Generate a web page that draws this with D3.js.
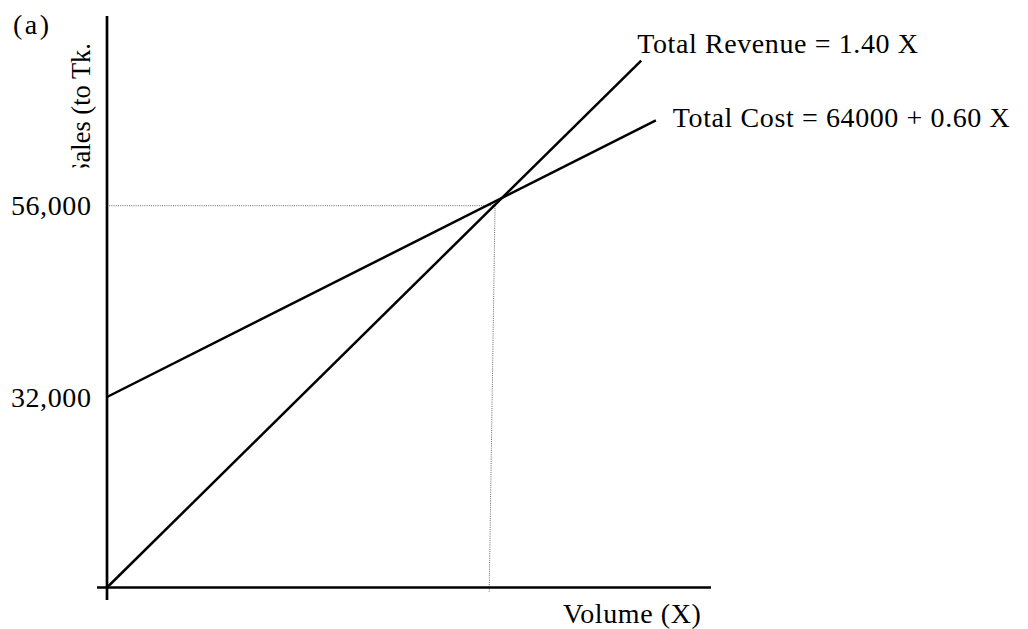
<!DOCTYPE html>
<html><head><meta charset="utf-8">
<script src="https://cdn.jsdelivr.net/npm/d3@7"></script>
<style>html,body{margin:0;padding:0;background:#fff}</style>
</head><body>
<svg id="c" width="1028" height="629"></svg>
<script>
// ---- data ----
const yTickValues = [32000, 56000];
const yTickLabels = ["32,000", "56,000"];
const revenueX = [0, 109300];
const revenueY = [0, 74200];
const costX = [0, 112300];
const costY = [32000, 66700];
const guideHX = [0, 79400];
const guideHY = [56000, 56000];
const guideVX = [79400, 78200];
const guideVY = [56000, -700];
const revenueLabel = "Total Revenue = 1.40 X";
const costLabel = "Total Cost = 64000 + 0.60 X";
const xTitle = "Volume (X)";
const yTitle = "Sales (to Tk.";
const panelLabel = "(a)";

// ---- layout ----
const FONT = "'Liberation Serif','Times New Roman',Times,serif";
const FS = 28;
const LS = 0.6;
const svg = d3.select("#c");
const x = d3.scaleLinear().domain([0, 80000]).range([107, 498]);
const y = d3.scaleLinear().domain([0, 32000, 56000]).range([587.5, 397, 205.7]);

const pts = (xs, ys) => xs.map((v, i) => [v, ys[i]]);
const line = d3.line().x(d => x(d[0])).y(d => y(d[1]));
const styleText = s => s.attr("font-family", FONT).attr("font-size", FS)
  .attr("letter-spacing", LS).attr("fill", "#000");

// guides (dotted)
[pts(guideHX, guideHY), pts(guideVX, guideVY)].forEach(p => {
  svg.append("path").attr("d", line(p)).attr("fill", "none")
    .attr("stroke", "#666").attr("stroke-width", 1).attr("stroke-dasharray", "1,1.2");
});

// axes
const x0 = x(0), y0 = y(0);
svg.append("line").attr("x1", x0).attr("x2", x0).attr("y1", 16).attr("y2", 600)
  .attr("stroke", "#000").attr("stroke-width", 2.7);
svg.append("line").attr("x1", 97).attr("x2", 711).attr("y1", y0).attr("y2", y0)
  .attr("stroke", "#000").attr("stroke-width", 2.7);

// y tick labels
const yAxis = d3.axisLeft(y).tickValues(yTickValues).tickSize(0).tickPadding(15.5)
  .tickFormat((d, i) => yTickLabels[i]);
const ga = svg.append("g").attr("transform", `translate(${x0},0)`).call(yAxis);
ga.select(".domain").remove();
ga.selectAll("text").call(styleText).attr("dy", "0.33em");

// lines
const rev = pts(revenueX, revenueY), cost = pts(costX, costY);
[rev, cost].forEach(p => {
  svg.append("path").attr("d", line(p)).attr("fill", "none")
    .attr("stroke", "#000").attr("stroke-width", 2.5);
});

// line labels
const re = rev[rev.length - 1], ce = cost[cost.length - 1];
svg.append("text").attr("x", x(re[0]) - 4).attr("y", y(re[1]) - 8)
  .call(styleText).text(revenueLabel);
svg.append("text").attr("x", x(ce[0]) + 17).attr("y", y(ce[1]) + 7)
  .call(styleText).text(costLabel);

// titles
svg.append("text").attr("x", 701.5).attr("y", 623).attr("text-anchor", "end")
  .call(styleText).text(xTitle);
svg.append("text").attr("x", 13).attr("y", 34)
  .call(styleText).attr("letter-spacing", 2.5).text(panelLabel);

svg.append("defs").append("clipPath").attr("id", "yclip")
  .append("rect").attr("x", 0).attr("y", 0).attr("width", 106).attr("height", 167.5);
svg.append("g").attr("clip-path", "url(#yclip)")
  .append("text").attr("transform", "translate(89.5,43) rotate(-90)")
  .attr("text-anchor", "end")
  .attr("font-family", FONT).attr("font-size", 26.5).attr("fill", "#000").text(yTitle);
</script>
</body></html>
